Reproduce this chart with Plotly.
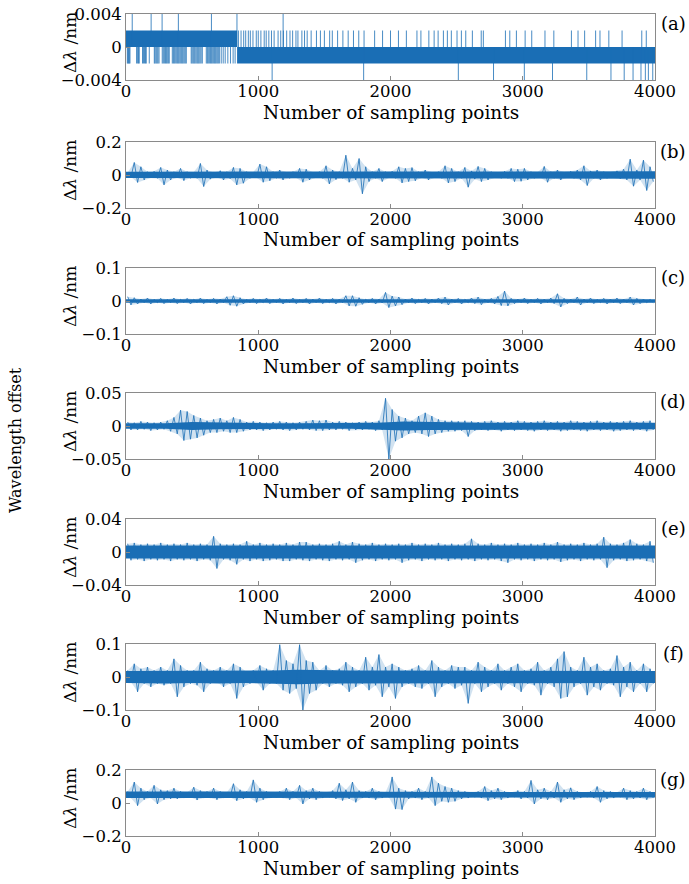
import plotly.graph_objects as go

W, H = 689, 884
FONT = "DejaVu Serif"
BLUE = "#1a6eb5"
LINE_BLUE = "rgba(26,110,181,0.8)"
HALO_BLUE = "rgba(26,110,181,0.2)"
BIN = 50        # samples per envelope bin (80 bins over 4000 samples)
CORE_BIN = 200  # samples per core-band bin (20 bins)

x_tick_vals = [0, 1000, 2000, 3000, 4000]
x_tick_text = ["0", "1000", "2000", "3000", "4000"]
panel_labels = ["(a)", "(b)", "(c)", "(d)", "(e)", "(f)", "(g)"]
y_limits = [0.004, 0.2, 0.1, 0.05, 0.04, 0.1, 0.2]
y_tick_text = [["\u22120.004", "0", "0.004"], ["\u22120.2", "0", "0.2"], ["\u22120.1", "0", "0.1"],
               ["\u22120.05", "0", "0.05"], ["\u22120.04", "0", "0.04"], ["\u22120.1", "0", "0.1"],
               ["\u22120.2", "0", "0.2"]]
x_title = "Number of sampling points"
y_title = "\u0394<i>\u03bb</i> /nm"
side_title = "Wavelength offset"

# ---- panel (a): quantised signal: solid bands + individual excursions ----
a_band_start = [0, 840]
a_band_end = [840, 4000]
a_band_lo = [0.0, -0.002]
a_band_hi = [0.002, 0.0]
a_down_lines = [10, 15, 20, 25, 30, 80, 88, 95, 100, 125, 132, 140, 148, 153, 176, 214, 220, 228, 235, 242, 250,
                274, 282, 290, 298, 305, 312, 320, 327, 350, 358, 365, 372, 380, 388, 395, 402, 410, 418, 425, 432,
                440, 448, 456, 493, 500, 508, 515, 522, 530, 538, 545, 552, 560, 568, 577, 607, 615, 622, 630, 638,
                645, 652, 660, 668, 675, 682, 690, 698, 706, 720, 735, 750, 770, 790, 810, 825]
a_up_lines = [850, 870, 890, 905, 925, 940, 960, 985, 1000, 1020, 1045, 1060, 1080, 1100, 1120, 1150, 1170, 1190,
              1215, 1240, 1260, 1285, 1300, 1330, 1350, 1370, 1400, 1440, 1470, 1500, 1540, 1560, 1600, 1640, 1680,
              1720, 1760, 1800, 1880, 1940, 2000, 2060, 2120, 2200, 2230, 2290, 2330, 2360, 2400, 2430, 2460,
              2503, 2536, 2569, 2619, 2686, 2702, 2869, 2902, 2952, 3018, 3068, 3168, 3235, 3368, 3418, 3468,
              3551, 3584, 3651, 3751, 3900, 3934]
a_up_spikes = [47, 190, 273, 396, 646, 839, 1188]
a_down_spikes = [1105, 1797, 2513, 2779, 3012, 3225, 3484, 3667, 3767, 3834, 3894, 3927, 3950, 3983]
a_line_level = 0.002
a_spike_level = 0.004

# ---- panels (b)-(g): per-bin upper / lower extents (nm), 50 samples per bin ----
b_hi = [.015, .076, .05, .02, .022, .046, .03, .02, .04, .02,
        .018, .07, .03, .015, .026, .02, .046, .04, .02, .018,
        .066, .05, .02, .03, .018, .02, .04, .035, .018, .02,
        .056, .03, .02, .12, .04, .1, .05, .02, .04, .02,
        .022, .05, .04, .045, .02, .03, .018, .02, .056, .04,
        .02, .046, .025, .052, .04, .02, .018, .022, .04, .035,
        .04, .02, .018, .052, .02, .03, .018, .022, .03, .056,
        .025, .03, .02, .018, .025, .035, .096, .03, .09, .05]
b_lo = [-.012, -.045, -.03, -.018, -.02, -.06, -.03, -.016, -.034, -.02,
        -.02, -.07, -.025, -.015, -.03, -.022, -.06, -.05, -.02, -.016,
        -.044, -.035, -.02, -.03, -.02, -.018, -.044, -.03, -.016, -.02,
        -.054, -.028, -.02, -.044, -.03, -.114, -.04, -.02, -.04, -.018,
        -.02, -.048, -.04, -.035, -.018, -.03, -.016, -.02, -.048, -.04,
        -.02, -.074, -.025, -.04, -.03, -.018, -.02, -.02, -.04, -.038,
        -.03, -.02, -.018, -.044, -.02, -.03, -.016, -.02, -.03, -.064,
        -.02, -.03, -.02, -.018, -.022, -.03, -.068, -.03, -.094, -.04]

c_hi = [.013, .01, .006, .009, .005, .008, .005, .009, .005, .008,
        .005, .009, .005, .008, .006, .013, .016, .01, .005, .008,
        .005, .009, .005, .008, .005, .009, .005, .008, .006, .009,
        .005, .008, .006, .016, .016, .01, .005, .008, .006, .026,
        .015, .012, .006, .009, .005, .008, .006, .009, .012, .006,
        .008, .005, .009, .012, .006, .008, .014, .03, .008, .006,
        .009, .005, .008, .006, .009, .022, .008, .006, .012, .006,
        .009, .005, .008, .006, .009, .006, .012, .008, .006, .005]
c_lo = [-.012, -.009, -.005, -.009, -.005, -.008, -.005, -.008, -.005, -.009,
        -.005, -.008, -.005, -.009, -.005, -.013, -.016, -.009, -.005, -.008,
        -.005, -.008, -.005, -.009, -.005, -.008, -.005, -.009, -.005, -.008,
        -.005, -.009, -.005, -.015, -.016, -.01, -.005, -.009, -.006, -.02,
        -.015, -.011, -.005, -.008, -.005, -.009, -.005, -.008, -.012, -.005,
        -.009, -.005, -.008, -.011, -.005, -.009, -.014, -.015, -.008, -.005,
        -.008, -.005, -.009, -.005, -.008, -.018, -.008, -.005, -.012, -.005,
        -.008, -.005, -.009, -.005, -.008, -.005, -.012, -.008, -.005, -.005]

d_hi = [.006, .005, .007, .006, .005, .006, .008, .013, .024, .022,
        .016, .012, .008, .01, .012, .008, .013, .01, .006, .007,
        .006, .005, .006, .007, .006, .005, .006, .007, .009, .008,
        .009, .006, .007, .006, .005, .006, .007, .006, .008, .042,
        .025, .015, .012, .008, .015, .02, .015, .01, .008, .008,
        .007, .008, .007, .006, .007, .008, .006, .007, .006, .008,
        .007, .006, .007, .008, .006, .007, .006, .008, .007, .006,
        .007, .008, .006, .007, .006, .007, .008, .006, .007, .008]
d_lo = [-.006, -.006, -.005, -.007, -.006, -.005, -.008, -.012, -.022, -.02,
        -.018, -.014, -.01, -.01, -.008, -.01, -.01, -.008, -.006, -.006,
        -.007, -.006, -.005, -.006, -.007, -.006, -.005, -.006, -.007, -.007,
        -.006, -.006, -.005, -.007, -.006, -.006, -.005, -.007, -.006, -.05,
        -.023, -.018, -.012, -.01, -.012, -.016, -.012, -.01, -.008, -.008,
        -.007, -.016, -.007, -.006, -.007, -.006, -.008, -.006, -.007, -.006,
        -.007, -.008, -.006, -.007, -.006, -.008, -.007, -.006, -.007, -.008,
        -.006, -.007, -.006, -.008, -.007, -.006, -.007, -.006, -.008, -.006]

e_hi = [.01, .011, .009, .01, .009, .011, .009, .01, .009, .011,
        .009, .01, .009, .019, .01, .009, .01, .009, .013, .009,
        .011, .009, .01, .009, .011, .009, .012, .012, .009, .01,
        .009, .01, .013, .009, .012, .01, .009, .011, .009, .01,
        .009, .01, .009, .011, .009, .01, .009, .011, .009, .01,
        .009, .01, .016, .01, .009, .011, .009, .01, .009, .011,
        .009, .01, .009, .011, .009, .012, .009, .01, .009, .011,
        .009, .01, .018, .01, .009, .011, .015, .01, .009, .013]
e_lo = [-.01, -.009, -.011, -.009, -.01, -.009, -.011, -.009, -.01, -.009,
        -.011, -.009, -.01, -.02, -.009, -.01, -.015, -.009, -.011, -.009,
        -.011, -.01, -.009, -.011, -.011, -.009, -.01, -.011, -.009, -.01,
        -.011, -.009, -.01, -.009, -.013, -.01, -.009, -.011, -.009, -.01,
        -.009, -.013, -.01, -.009, -.011, -.009, -.01, -.009, -.011, -.009,
        -.01, -.009, -.011, -.009, -.01, -.009, -.011, -.013, -.009, -.01,
        -.009, -.011, -.009, -.01, -.009, -.012, -.01, -.009, -.011, -.009,
        -.01, -.009, -.019, -.01, -.009, -.011, -.01, -.009, -.011, -.013]

f_hi = [.02, .04, .025, .03, .02, .03, .02, .055, .035, .02,
        .02, .045, .025, .02, .03, .02, .04, .03, .015, .02,
        .035, .025, .02, .098, .05, .04, .098, .05, .045, .02,
        .035, .02, .025, .045, .03, .02, .06, .03, .068, .03,
        .04, .03, .02, .025, .035, .02, .05, .03, .02, .035,
        .03, .03, .02, .045, .03, .02, .04, .02, .03, .04,
        .02, .025, .045, .02, .03, .055, .077, .03, .02, .06,
        .03, .04, .02, .025, .065, .03, .045, .02, .04, .025]
f_lo = [-.015, -.045, -.02, -.03, -.02, -.025, -.02, -.06, -.03, -.02,
        -.025, -.045, -.02, -.015, -.03, -.02, -.065, -.03, -.02, -.015,
        -.04, -.02, -.02, -.04, -.05, -.035, -.1, -.05, -.04, -.02,
        -.03, -.02, -.025, -.045, -.03, -.02, -.04, -.025, -.06, -.03,
        -.065, -.03, -.02, -.03, -.035, -.02, -.06, -.03, -.02, -.035,
        -.025, -.08, -.02, -.045, -.03, -.02, -.04, -.02, -.03, -.045,
        -.02, -.025, -.055, -.02, -.03, -.065, -.06, -.03, -.02, -.055,
        -.03, -.04, -.02, -.025, -.06, -.03, -.045, -.02, -.045, -.02]

g_hi = [.07, .127, .09, .07, .107, .08, .075, .09, .07, .065,
        .096, .075, .07, .09, .07, .065, .117, .08, .07, .14,
        .09, .07, .065, .07, .09, .07, .107, .075, .09, .07,
        .065, .075, .12, .08, .127, .075, .07, .09, .07, .065,
        .158, .09, .075, .07, .09, .07, .158, .12, .1, .09,
        .075, .07, .065, .07, .1, .075, .09, .07, .065, .075,
        .07, .137, .08, .09, .07, .127, .08, .092, .07, .065,
        .07, .1, .075, .07, .065, .09, .075, .07, .09, .07]
g_lo = [.03, -.016, .02, .03, -.006, .02, .025, .025, .03, .035,
        .018, .03, .03, .02, .03, .035, .014, .025, .03, .004,
        .02, .03, .035, .03, .02, .03, -.006, .025, .02, .03,
        .035, .025, .015, .025, .004, .03, .03, .02, .03, .035,
        -.037, -.04, .025, .03, .02, .03, -.016, .01, .004, .01,
        .025, .03, .035, .03, .014, .025, .02, .03, .035, .025,
        .03, -.006, .025, .02, .03, .004, .025, .02, .03, .035,
        .03, .004, .025, .03, .035, .02, .025, .03, .02, .03]

# ---- dense core of each trace (nm), 200 samples per bin ----
b_core_hi = [.02, .02, .018, .02, .02, .022, .018, .02, .022, .022, .02, .02, .022, .02, .018, .02, .02, .018, .02, .022]
b_core_lo = [-.018, -.02, -.018, -.02, -.02, -.02, -.018, -.02, -.022, -.022, -.02, -.02, -.022, -.018, -.018, -.02, -.02, -.018, -.02, -.022]
c_core_hi = [.005, .005, .005, .005, .005, .005, .005, .005, .006, .005, .006, .005, .005, .005, .006, .005, .005, .005, .005, .005]
c_core_lo = [-.005, -.005, -.005, -.005, -.005, -.005, -.005, -.005, -.006, -.005, -.006, -.005, -.005, -.005, -.006, -.005, -.005, -.005, -.005, -.005]
d_core_hi = [.004, .004, .006, .005, .005, .004, .004, .004, .004, .005, .007, .006, .005, .005, .005, .005, .005, .005, .005, .005]
d_core_lo = [-.004, -.004, -.006, -.005, -.005, -.004, -.004, -.004, -.004, -.005, -.007, -.006, -.005, -.005, -.005, -.005, -.005, -.005, -.005, -.005]
e_core_hi = [.008, .008, .008, .008, .008, .008, .008, .008, .008, .008, .008, .008, .008, .008, .008, .008, .008, .008, .008, .008]
e_core_lo = [-.008, -.008, -.008, -.008, -.008, -.008, -.008, -.008, -.008, -.008, -.008, -.008, -.008, -.008, -.008, -.008, -.008, -.008, -.008, -.008]
f_core_hi = [.018, .02, .018, .02, .018, .02, .022, .02, .02, .02, .02, .02, .02, .02, .02, .02, .02, .02, .02, .018]
f_core_lo = [-.018, -.02, -.018, -.02, -.018, -.02, -.022, -.02, -.02, -.02, -.02, -.02, -.02, -.02, -.02, -.02, -.02, -.02, -.02, -.018]
g_core_hi = [.07, .068, .066, .066, .07, .066, .066, .068, .066, .07, .07, .066, .07, .066, .068, .07, .068, .066, .068, .066]
g_core_lo = [.03, .032, .034, .034, .03, .034, .034, .032, .034, .03, .03, .034, .03, .034, .032, .03, .032, .034, .032, .034]

envelopes = [(b_hi, b_lo), (c_hi, c_lo), (d_hi, d_lo), (e_hi, e_lo), (f_hi, f_lo), (g_hi, g_lo)]
cores = [(b_core_hi, b_core_lo), (c_core_hi, c_core_lo), (d_core_hi, d_core_lo), (e_core_hi, e_core_lo),
         (f_core_hi, f_core_lo), (g_core_hi, g_core_lo)]

# ---- layout geometry (pixels) ----
tops = [14, 142, 268, 393, 519, 644, 770]
PH = 66
XL, XR = 126, 655

fig = go.Figure()


def axis_names(k):
    s = "" if k == 0 else str(k + 1)
    return "x" + s, "y" + s, "xaxis" + s, "yaxis" + s


# panel (a)
xa, ya, _, _ = axis_names(0)
bx, by = [], []
for s, e, lo, hi in zip(a_band_start, a_band_end, a_band_lo, a_band_hi):
    bx += [s, e, e, s, s, None]
    by += [lo, lo, hi, hi, lo, None]
fig.add_trace(go.Scatter(x=bx, y=by, fill="toself", fillcolor=BLUE, mode="lines",
                         line=dict(width=0, color=BLUE), xaxis=xa, yaxis=ya,
                         showlegend=False, hoverinfo="skip"))
lx, ly = [], []
for p in a_down_lines:
    lx += [p, p, None]; ly += [0, -a_line_level, None]
for p in a_up_lines:
    lx += [p, p, None]; ly += [0, a_line_level, None]
for p in a_up_spikes:
    lx += [p, p, None]; ly += [0, a_spike_level, None]
for p in a_down_spikes:
    lx += [p, p, None]; ly += [0, -a_spike_level, None]
fig.add_trace(go.Scatter(x=lx, y=ly, mode="lines", line=dict(width=1, color=LINE_BLUE),
                         xaxis=xa, yaxis=ya, showlegend=False, hoverinfo="skip"))

# panels (b)-(g): light envelope + dense core band + zigzag between bin extents
for k, ((hi, lo), (chi, clo)) in enumerate(zip(envelopes, cores), start=1):
    xa, ya, _, _ = axis_names(k)
    hx = [i * BIN + BIN * 0.25 for i in range(len(hi))]
    lxs = [i * BIN + BIN * 0.75 for i in range(len(lo))]
    fig.add_trace(go.Scatter(x=hx + lxs[::-1], y=list(hi) + list(lo)[::-1], fill="toself",
                             fillcolor=HALO_BLUE, mode="lines", line=dict(width=0, color=HALO_BLUE),
                             xaxis=xa, yaxis=ya, showlegend=False, hoverinfo="skip"))
    cx = [0] + [i * CORE_BIN + CORE_BIN / 2 for i in range(len(chi))] + [4000]
    up = [chi[0]] + list(chi) + [chi[-1]]
    dn = [clo[0]] + list(clo) + [clo[-1]]
    fig.add_trace(go.Scatter(x=cx + cx[::-1], y=up + dn[::-1], fill="toself", fillcolor=BLUE,
                             mode="lines", line=dict(width=0, color=BLUE), xaxis=xa, yaxis=ya,
                             showlegend=False, hoverinfo="skip"))
    xs, ys = [], []
    for i in range(len(hi)):
        xs += [hx[i], lxs[i]]
        ys += [hi[i], lo[i]]
    fig.add_trace(go.Scatter(x=xs, y=ys, mode="lines", line=dict(width=1, color=LINE_BLUE),
                             xaxis=xa, yaxis=ya, showlegend=False, hoverinfo="skip"))

axis_common = dict(showline=True, linecolor="#8a8a8a", linewidth=1, mirror=True, ticks="inside",
                   ticklen=4, tickcolor="#8a8a8a", showgrid=False, zeroline=False, automargin=False,
                   tickfont=dict(family=FONT, size=16.5, color="black"))

layout = {}
annotations = []
for k in range(7):
    xa, ya, xkey, ykey = axis_names(k)
    lim = y_limits[k]
    top, bot = tops[k], tops[k] + PH
    layout[xkey] = dict(axis_common, domain=[XL / W, XR / W], anchor=ya, range=[0, 4000],
                        tickvals=x_tick_vals, ticktext=x_tick_text, ticklabelstandoff=-4)
    layout[ykey] = dict(axis_common, domain=[1 - bot / H, 1 - top / H], anchor=xa,
                        range=[-lim, lim], tickvals=[-lim, 0, lim], ticktext=y_tick_text[k])
    annotations.append(dict(text=x_title, x=(XL + XR) / 2 / W, y=1 - (bot + 32) / H, xref="paper",
                            yref="paper", showarrow=False, xanchor="center", yanchor="middle",
                            font=dict(family=FONT, size=18.5, color="black")))
    annotations.append(dict(text=y_title, x=70 / W, y=1 - (top + PH / 2 - 4) / H, xref="paper",
                            yref="paper", showarrow=False, xanchor="center", yanchor="middle",
                            textangle=-90, font=dict(family=FONT, size=17, color="black")))
    annotations.append(dict(text=panel_labels[k], x=673 / W, y=1 - (top + 9) / H, xref="paper",
                            yref="paper", showarrow=False, xanchor="center", yanchor="middle",
                            font=dict(family=FONT, size=18, color="black")))

annotations.append(dict(text=side_title, x=15 / W, y=1 - 440 / H, xref="paper", yref="paper",
                        showarrow=False, textangle=-90, xanchor="center", yanchor="middle",
                        font=dict(family=FONT, size=16, color="black")))

fig.update_layout(template="none", width=W, height=H, margin=dict(l=0, r=0, t=0, b=0, pad=0),
                  autosize=False, paper_bgcolor="white", plot_bgcolor="white",
                  annotations=annotations, **layout)

fig.write_html("out.html", config={"displayModeBar": False},
               post_script="document.body.style.margin='0';")
